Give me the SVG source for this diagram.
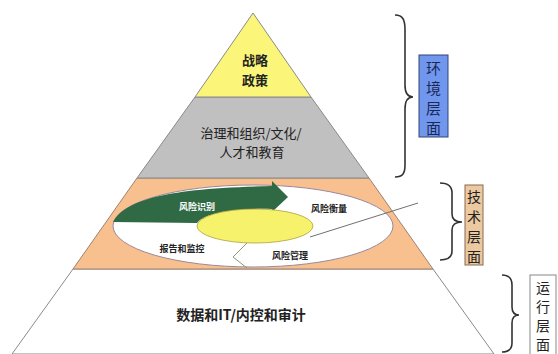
<svg xmlns="http://www.w3.org/2000/svg" width="558" height="354" viewBox="0 0 558 354">
<style>
.t{font-family:"Noto Sans CJK SC","Liberation Sans",sans-serif;fill:#222;text-anchor:middle}
.b{font-weight:bold}
.brace{stroke:#333;stroke-width:1.6;fill:none}
</style>
<rect width="558" height="354" fill="#ffffff"/>
<g id="level-bottom">
<polygon points="73,269 433,269 494,354 12,354" fill="#ffffff" stroke="#8a8a8a"/>
<text class="t b" x="241" y="320" font-size="14">数据和IT/内控和审计</text>
</g>
<g id="level-tech">
<polygon points="137,178 369,178 433,269 73,269" fill="#f7c08e" stroke="#a08070"/>
<ellipse cx="253" cy="226" rx="140" ry="41" fill="#ffffff" stroke="#9a8aa0"/>
<path d="M 113,222 C 125,200 165,188 272,186 L 272,181 L 288,197 L 272,212 L 272,209 C 240,208 205,212 197,223 Z" fill="#2f6a45"/>
<ellipse cx="255" cy="226" rx="58" ry="17" fill="#f6f26c" stroke="#b0a040" stroke-width="0.8"/>
<path d="M 310,237 L 418,203" stroke="#707070" stroke-width="1"/>
<path d="M 247,243 L 233,257 L 247,268" stroke="#8a9a70" stroke-width="1" fill="none"/>
<text class="t b" x="197" y="210" font-size="9" style="fill:#ffffff">风险识别</text>
<text class="t b" x="329" y="212" font-size="9">风险衡量</text>
<text class="t b" x="182" y="252" font-size="9">报告和监控</text>
<text class="t b" x="290" y="259" font-size="9">风险管理</text>
</g>
<g id="level-governance">
<polygon points="195,97 311,97 369,178 137,178" fill="#c0c0c0" stroke="#8a8a8a"/>
<text class="t" x="251" y="138" font-size="13">治理和组织/文化/</text>
<text class="t" x="252" y="157" font-size="13">人才和教育</text>
</g>
<g id="level-strategy">
<polygon points="253,13 311,97 195,97" fill="#fbf67a" stroke="#8a8a8a"/>
<text class="t b" x="255" y="65" font-size="13">战略</text>
<text class="t b" x="255" y="85" font-size="13">政策</text>
</g>
<g id="connectors">
<path class="brace" d="M 395,15 C 403,15 405,20 405,30 L 405,85 C 405,93 408,97 413,97 C 408,97 405,101 405,109 L 405,165 C 405,173 403,177 395,177"/>
<path class="brace" d="M 440,183 C 448,183 452,186 452,193 L 452,214 C 452,219 455,222 462,222 C 455,222 452,225 452,230 L 452,251 C 452,257 448,260 440,260"/>
<path class="brace" d="M 502,275 C 509,275 512,278 512,285 L 512,307 C 512,312 514,315 519,315 C 514,315 512,318 512,323 L 512,343 C 512,349 509,352 502,352"/>
</g>
<g id="label-env">
<rect x="419" y="55" width="29" height="82" fill="#7096ee" stroke="#334477"/>
<text class="t" x="433.5" y="74" font-size="15" style="fill:#1a2a55">环</text>
<text class="t" x="433.5" y="94" font-size="15" style="fill:#1a2a55">境</text>
<text class="t" x="433.5" y="114" font-size="15" style="fill:#1a2a55">层</text>
<text class="t" x="433.5" y="134" font-size="15" style="fill:#1a2a55">面</text>
</g>
<g id="label-tech">
<rect x="465" y="185" width="18" height="80" fill="#ecc9a0" stroke="#8a6a50"/>
<text class="t" x="474" y="202" font-size="14">技</text>
<text class="t" x="474" y="222" font-size="14">术</text>
<text class="t" x="474" y="242" font-size="14">层</text>
<text class="t" x="474" y="262" font-size="14">面</text>
</g>
<g id="label-ops">
<rect x="530" y="275" width="26" height="90" fill="#ffffff" stroke="#888888"/>
<text class="t" x="543" y="293" font-size="14">运</text>
<text class="t" x="543" y="312" font-size="14">行</text>
<text class="t" x="543" y="331" font-size="14">层</text>
<text class="t" x="543" y="350" font-size="14">面</text>
</g>
</svg>
